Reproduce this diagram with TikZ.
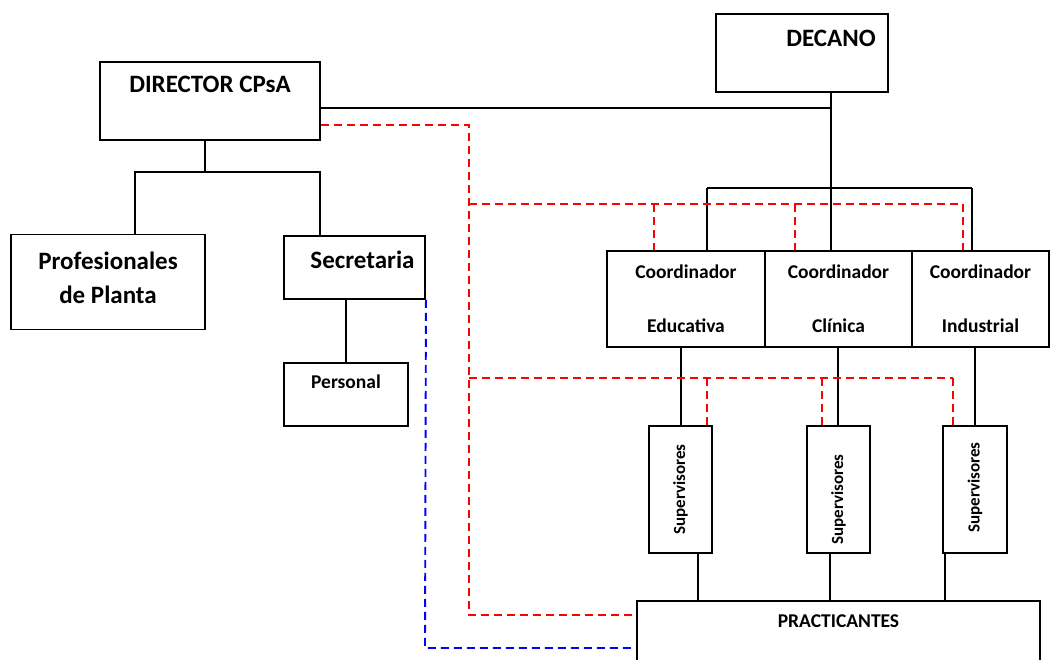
\documentclass[tikz,border=0pt]{standalone}
\usepackage{fontspec}
\setmainfont{Carlito}
\usepackage{tikz}
\usetikzlibrary{positioning}
\newcommand{\bigfont}{\fontsize{25}{34}\selectfont\bfseries}
\newcommand{\midfont}{\fontsize{19.5}{54}\selectfont\bfseries}
\newcommand{\supfont}{\fontsize{17}{20}\selectfont\bfseries}
\tikzset{box/.style={draw,line width=1.9pt,inner sep=0pt},big label/.style={font=\bigfont,inner sep=0pt,align=center},mid label/.style={font=\midfont,inner sep=0pt,align=center},conn/.style={line width=1.9pt},red link/.style={draw=red,line width=1.9pt,dash pattern=on 8pt off 5pt},blue link/.style={draw=blue,line width=1.9pt,dash pattern=on 8pt off 5pt}}

\begin{document}
\begin{tikzpicture}[x=1pt,y=-1pt]
 \useasboundingbox (0,0) rectangle (1050,659);
 % Boxes, placed at pixel coordinates of the chart
 \node[box,minimum width=172,minimum height=78] (dec) at (802,53) {};
 \node[big label] (dec-txt) at ([xshift=29pt,yshift=-25pt]dec.north) {DECANO};
 \node[box,minimum width=220,minimum height=78] (dir) at (210,101) {};
 \node[big label] (dir-txt) at ([yshift=-23pt]dir.north) {DIRECTOR CPsA};
 \node[box,minimum width=194,minimum height=95] (prof) at (108,282) {};
 \node[big label] (prof-txt) at ([yshift=4pt]prof.center) {Profesionales\\de Planta};
 \node[box,minimum width=141,minimum height=63] (sec) at (354.5,267.5) {};
 \node[big label] (sec-txt) at ([xshift=8pt,yshift=-25pt]sec.north) {Secretaria};
 \node[box,minimum width=124,minimum height=63] (pers) at (346,394.5) {};
 \node[mid label] (pers-txt) at ([yshift=-20pt]pers.north) {Personal};

 \node[box,minimum width=158,minimum height=96,font=\midfont,align=center] (edu) at (686,299) {Coordinador\\Educativa};
 \node[box,minimum width=147,minimum height=96,font=\midfont,align=center] (cli) at (838.5,299) {Coordinador\\Clínica};
 \node[box,minimum width=137,minimum height=96,font=\midfont,align=center] (ind) at (980.5,299) {Coordinador\\Industrial};

 \node[box,minimum width=63,minimum height=127] (sup1) at (680.5,489.5) {};
 \node[box,minimum width=63,minimum height=127] (sup2) at (838.5,489.5) {};
 \node[box,minimum width=64,minimum height=127] (sup3) at (975,489.5) {};
 \node[font=\supfont,rotate=90] (sup1-txt) at (sup1.center) {Supervisores};
 \node[font=\supfont,rotate=90] (sup2-txt) at ([yshift=-10pt]sup2.center) {Supervisores};
 \node[font=\supfont,rotate=90] (sup3-txt) at ([yshift=2pt]sup3.center) {Supervisores};

 \node[box,minimum width=403,minimum height=98] (prac) at (838.5,650) {};
 \node[mid label] (prac-txt) at ([yshift=-21pt]prac.north) {PRACTICANTES};

 % Solid lines of the hierarchy
 \coordinate (dj) at (831,108);
 \coordinate (bar) at (831,188);
 \draw[conn] (dir.east |- dj) -- (dj) -- (bar);
 \draw[conn] (dec.south -| dj) -- (dj);
 \draw[conn] (707,188) -- (972,188);
 \foreach \b/\x in {edu/707,cli/831,ind/972} {\draw[conn] (\x,188) -- (\b.north -| \x,0);}
 \coordinate (dsub) at (205,172);
 \draw[conn] (dir.south -| dsub) -- (dsub);
 \draw[conn] (prof.north -| 135,0) |- (dsub) -| (sec.north -| 320,0);
 \draw[conn] (sec.south -| pers.north) -- (pers.north);
 \foreach \c/\s/\x in {edu/sup1/681,cli/sup2/838,ind/sup3/975} {\draw[conn] (\c.south -| \x,0) -- (\s.north -| \x,0);}
 \foreach \s/\x in {sup1/698,sup2/830,sup3/945} {\draw[conn] (\s.south -| \x,0) -- (prac.north -| \x,0);}

 % Dashed links
 \coordinate (rc) at (469,125);
 \draw[red link] (dir.east |- rc) -- (rc) -- (469,615) -- (prac.west |- 0,615);
 \draw[red link] (469,204) -- (963,204);
 \foreach \b/\x in {edu/654,cli/795,ind/963} {\draw[red link] (\x,204) -- (\b.north -| \x,0);}
 \draw[red link] (469,378) -- (953,378);
 \foreach \s/\x in {sup1/707,sup2/822,sup3/953} {\draw[red link] (\x,378) -- (\s.north -| \x,0);}
 \draw[blue link] (sec.south east) -- (425,648) -- (prac.west |- 0,648);
\end{tikzpicture}
\end{document}
